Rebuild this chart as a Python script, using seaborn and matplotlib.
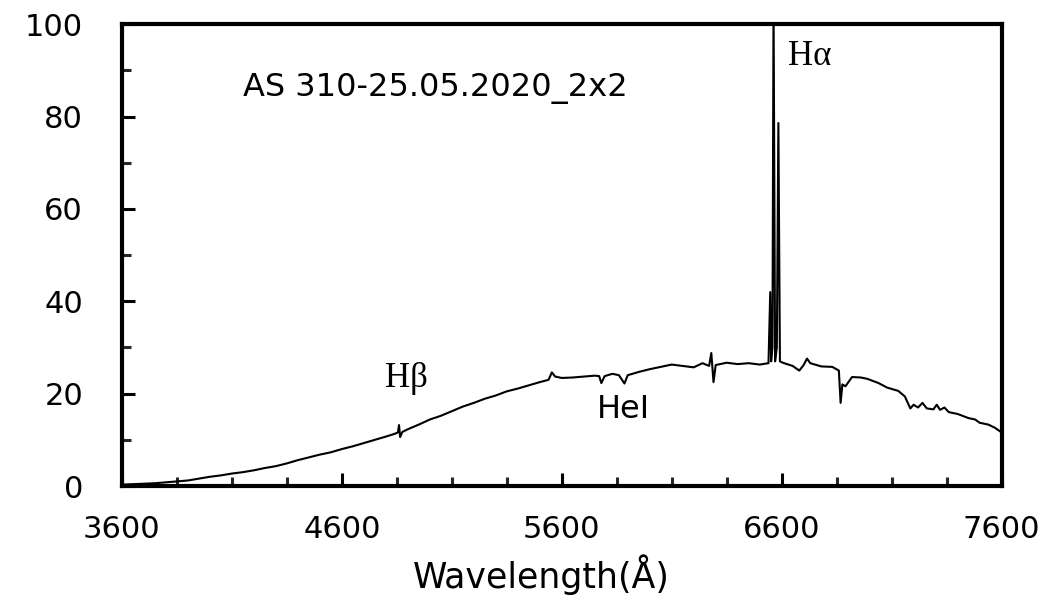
import matplotlib
matplotlib.use("Agg")
import matplotlib.pyplot as plt
import seaborn as sns
import pandas as pd
from matplotlib.ticker import AutoMinorLocator

wavelength = [3600, 3650, 3700, 3750, 3800, 3850, 3900, 3950, 4000, 4050,
              4100, 4150, 4200, 4250, 4300, 4350, 4400, 4450, 4500, 4550,
              4600, 4650, 4700, 4750, 4800, 4840, 4855, 4860, 4865, 4875,
              4900, 4950, 5000, 5050, 5100, 5150, 5200, 5250, 5300, 5350,
              5400, 5450, 5500, 5540, 5555, 5570, 5600, 5650, 5700, 5750,
              5770, 5780, 5795, 5830, 5860, 5885, 5900, 5950, 6000, 6050,
              6100, 6150, 6200, 6240, 6270, 6280, 6290, 6300, 6350, 6400,
              6450, 6500, 6540, 6548, 6552, 6558, 6563, 6570, 6578, 6585,
              6592, 6605, 6650, 6680, 6700, 6715, 6730, 6780, 6830, 6860,
              6868, 6876, 6890, 6920, 6960, 6990, 7040, 7080, 7130, 7160,
              7185, 7200, 7220, 7240, 7260, 7290, 7305, 7320, 7340, 7360,
              7400, 7450, 7480, 7500, 7540, 7570, 7600]
flux = [0.3, 0.4, 0.5, 0.6, 0.8, 1.0, 1.2, 1.6, 2.0, 2.3,
        2.7, 3.0, 3.4, 3.9, 4.3, 4.9, 5.6, 6.2, 6.8, 7.3,
        8.0, 8.6, 9.3, 10.0, 10.7, 11.3, 11.6, 13.2, 10.6, 11.7,
        12.3, 13.3, 14.4, 15.2, 16.2, 17.2, 18.0, 18.9, 19.6, 20.5,
        21.1, 21.8, 22.5, 23.0, 24.6, 23.7, 23.4, 23.5, 23.7, 23.9,
        23.8, 22.3, 23.8, 24.3, 24.0, 22.2, 24.0, 24.7, 25.3, 25.8,
        26.3, 26.0, 25.7, 26.6, 26.0, 28.8, 22.5, 26.2, 26.7, 26.4,
        26.6, 26.3, 26.6, 42.0, 27.0, 30.0, 105.0, 27.0, 30.0, 78.6,
        27.0, 26.7, 26.0, 25.0, 26.2, 27.6, 26.6, 25.9, 25.8, 25.0,
        18.0, 22.0, 21.6, 23.6, 23.5, 23.2, 22.3, 21.3, 20.6, 19.4,
        16.8, 17.6, 17.0, 18.0, 16.8, 16.6, 17.6, 16.5, 17.0, 16.0,
        15.6, 14.7, 14.4, 13.7, 13.3, 12.6, 11.6]

x_ticks = [3600, 4600, 5600, 6600, 7600]
y_ticks = [0, 20, 40, 60, 80, 100]

df = pd.DataFrame({"Wavelength": wavelength, "Flux": flux})

sns.set_style("ticks")
plt.rcParams['font.family'] = ['DejaVu Sans']
plt.rcParams['text.color'] = 'black'

fig = plt.figure(figsize=(10.51, 6.06), dpi=100)
ax = fig.add_axes([0.116, 0.198, 0.837, 0.762])

sns.lineplot(data=df, x="Wavelength", y="Flux", ax=ax, color="black",
             linewidth=1.5, estimator=None, sort=False)

ax.set_xlim(3600, 7600)
ax.set_ylim(0, 100)
ax.set_xticks(x_ticks)
ax.set_yticks(y_ticks)
ax.xaxis.set_minor_locator(AutoMinorLocator(4))
ax.yaxis.set_minor_locator(AutoMinorLocator(2))
ax.tick_params(which="major", direction="in", length=9.5, width=2.2,
               labelsize=22, colors="black", labelcolor="black")
ax.tick_params(axis="x", which="major", pad=21)
ax.tick_params(axis="y", which="major", pad=28)
ax.tick_params(which="minor", direction="in", length=6.5, width=2.2)
ax.tick_params(top=False, right=False, which="both")
for s in ax.spines.values():
    s.set_linewidth(3)
    s.set_color("black")

ax.set_xlabel("Wavelength(Å)", fontsize=25, color="black")
ax.xaxis.set_label_coords(0.477, -0.148)
ax.set_ylabel("")

ax.text(4150, 84.4, "AS 310-25.05.2020_2x2", fontsize=23, va="baseline", ha="left", color="black")
ax.text(6627, 91.1, "Hα", fontsize=25, va="baseline", ha="left", family="Liberation Serif", color="black")
ax.text(4795, 21.4, "Hβ", fontsize=25, va="baseline", ha="left", family="Liberation Serif", color="black")
ax.text(5759, 14.7, "HeI", fontsize=23, va="baseline", ha="left", color="black")

fig.savefig("out.png", dpi=100)
